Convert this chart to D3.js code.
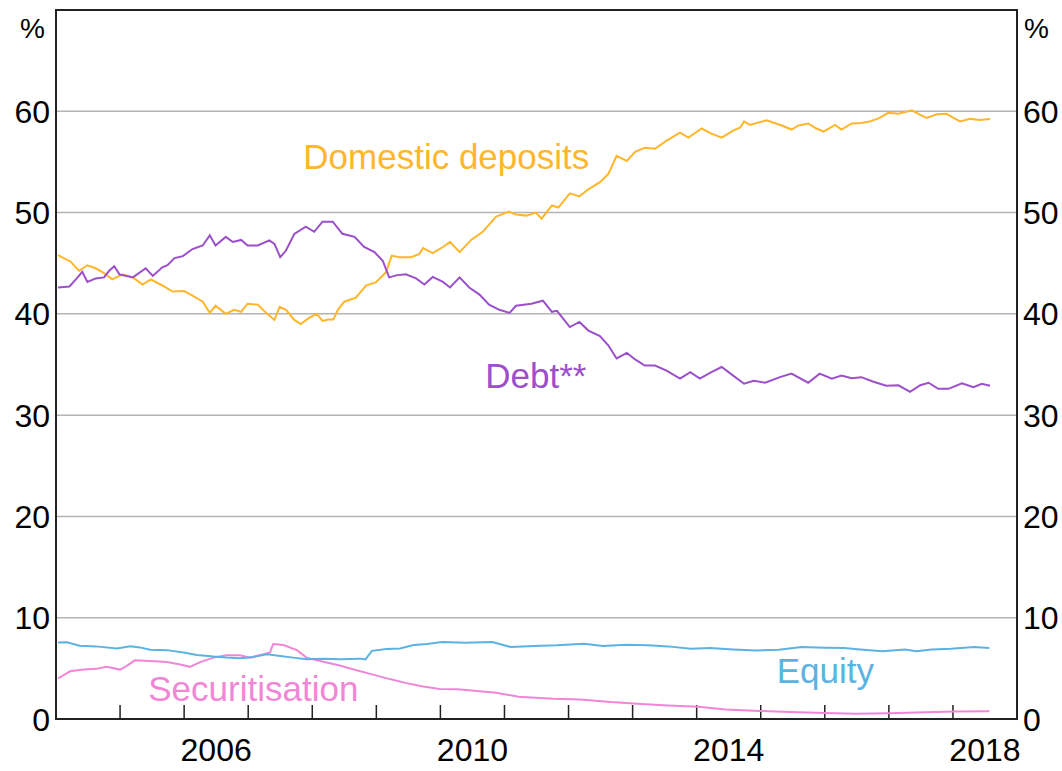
<!DOCTYPE html>
<html>
<head>
<meta charset="utf-8">
<script src="https://cdn.jsdelivr.net/npm/d3@7"></script>
<style>
  body { margin: 0; background: #fff; }
  svg { font-family: Arial, "Liberation Sans", sans-serif; }
</style>
</head>
<body>
<div id="chart"></div>
<script>
// values, [decimal year, per cent]
const deposits = [
  [2004.03,45.8],[2004.23,45.15],[2004.36,44.25],[2004.49,44.8],[2004.62,44.5],[2004.73,44.1],
  [2004.88,43.4],[2005.04,43.9],[2005.20,43.6],[2005.35,42.9],[2005.48,43.4],[2005.66,42.8],
  [2005.82,42.2],[2006.0,42.25],[2006.13,41.8],[2006.29,41.2],[2006.40,40.1],[2006.49,40.8],
  [2006.65,40.0],[2006.78,40.4],[2006.89,40.2],[2006.99,41.0],[2007.15,40.9],[2007.28,40.1],
  [2007.41,39.4],[2007.49,40.7],[2007.59,40.4],[2007.72,39.4],[2007.82,39.0],[2007.95,39.6],
  [2008.07,40.0],[2008.16,39.3],[2008.25,39.45],[2008.33,39.45],[2008.40,40.4],[2008.50,41.2],
  [2008.68,41.6],[2008.84,42.8],[2008.99,43.1],[2009.15,44.1],[2009.24,45.75],[2009.36,45.6],
  [2009.54,45.6],[2009.67,45.9],[2009.73,46.5],[2009.88,46.0],[2010.04,46.6],[2010.15,47.1],
  [2010.30,46.1],[2010.48,47.3],[2010.66,48.1],[2010.87,49.6],[2011.07,50.1],[2011.18,49.8],
  [2011.34,49.7],[2011.49,50.0],[2011.58,49.4],[2011.74,50.7],[2011.84,50.5],[2012.02,51.9],
  [2012.17,51.6],[2012.31,52.3],[2012.49,53.0],[2012.62,53.8],[2012.75,55.6],[2012.91,55.1],
  [2013.04,56.0],[2013.19,56.4],[2013.35,56.3],[2013.53,57.1],[2013.74,57.9],[2013.87,57.4],
  [2014.08,58.3],[2014.23,57.8],[2014.39,57.4],[2014.57,58.1],[2014.68,58.4],[2014.74,59.0],
  [2014.83,58.65],[2015.09,59.1],[2015.33,58.6],[2015.48,58.2],[2015.59,58.6],[2015.74,58.8],
  [2015.87,58.3],[2015.98,58.0],[2016.16,58.65],[2016.26,58.2],[2016.42,58.8],[2016.57,58.85],
  [2016.70,59.0],[2016.84,59.3],[2016.99,59.85],[2017.15,59.75],[2017.36,60.1],[2017.46,59.75],
  [2017.59,59.35],[2017.75,59.7],[2017.90,59.75],[2018.01,59.35],[2018.11,59.0],[2018.27,59.25],
  [2018.42,59.15],[2018.58,59.25]
];
const debt = [
  [2004.03,42.6],[2004.21,42.7],[2004.31,43.4],[2004.41,44.15],[2004.49,43.15],[2004.62,43.5],
  [2004.75,43.6],[2004.83,44.25],[2004.91,44.7],[2004.99,43.9],[2005.20,43.6],[2005.40,44.5],
  [2005.51,43.75],[2005.66,44.6],[2005.74,44.8],[2005.85,45.5],[2005.98,45.7],[2006.13,46.4],
  [2006.29,46.75],[2006.40,47.75],[2006.49,46.75],[2006.65,47.6],[2006.76,47.1],[2006.89,47.3],
  [2006.99,46.75],[2007.15,46.75],[2007.33,47.25],[2007.41,46.9],[2007.50,45.6],[2007.59,46.25],
  [2007.72,47.9],[2007.90,48.6],[2008.03,48.1],[2008.16,49.1],[2008.32,49.1],[2008.47,47.9],
  [2008.66,47.6],[2008.81,46.6],[2008.97,46.1],[2009.10,45.25],[2009.20,43.6],[2009.31,43.8],
  [2009.46,43.9],[2009.62,43.5],[2009.75,42.9],[2009.88,43.65],[2010.04,43.15],[2010.15,42.6],
  [2010.30,43.6],[2010.45,42.6],[2010.61,41.9],[2010.76,40.9],[2010.92,40.4],[2011.08,40.1],
  [2011.18,40.8],[2011.30,40.9],[2011.42,41.0],[2011.60,41.3],[2011.74,40.2],[2011.82,40.3],
  [2012.02,38.7],[2012.17,39.2],[2012.31,38.35],[2012.49,37.8],[2012.62,36.9],[2012.75,35.6],
  [2012.91,36.15],[2013.04,35.5],[2013.19,34.9],[2013.35,34.9],[2013.53,34.4],[2013.74,33.6],
  [2013.90,34.25],[2014.05,33.6],[2014.23,34.25],[2014.39,34.75],[2014.57,33.9],[2014.74,33.1],
  [2014.89,33.4],[2015.07,33.2],[2015.30,33.75],[2015.48,34.1],[2015.74,33.2],[2015.92,34.1],
  [2016.11,33.6],[2016.26,33.9],[2016.42,33.65],[2016.57,33.75],[2016.76,33.3],[2016.96,32.9],
  [2017.15,32.95],[2017.33,32.3],[2017.49,32.95],[2017.62,33.2],[2017.77,32.6],[2017.93,32.6],
  [2018.14,33.15],[2018.32,32.75],[2018.45,33.1],[2018.58,32.9]
];
const equity = [
  [2004.03,7.55],[2004.17,7.58],[2004.37,7.24],[2004.63,7.17],[2004.95,6.97],[2005.16,7.17],
  [2005.31,7.07],[2005.47,6.84],[2005.73,6.8],[2005.99,6.57],[2006.20,6.33],[2006.46,6.16],
  [2006.66,6.06],[2006.87,5.99],[2007.08,6.13],[2007.29,6.4],[2007.50,6.23],[2007.70,6.06],
  [2007.91,5.89],[2008.17,5.96],[2008.43,5.89],[2008.75,5.96],[2008.83,5.89],[2008.93,6.73],
  [2009.16,6.9],[2009.37,6.97],[2009.58,7.3],[2009.79,7.4],[2010.03,7.6],[2010.39,7.53],
  [2010.81,7.6],[2011.10,7.1],[2011.46,7.2],[2011.82,7.27],[2012.24,7.43],[2012.54,7.2],
  [2012.90,7.33],[2013.25,7.27],[2013.55,7.17],[2013.91,6.93],[2014.21,7.0],[2014.57,6.87],
  [2014.93,6.77],[2015.28,6.83],[2015.64,7.1],[2016.0,7.03],[2016.30,7.0],[2016.60,6.83],
  [2016.90,6.7],[2017.25,6.87],[2017.43,6.7],[2017.67,6.87],[2017.97,6.93],[2018.33,7.1],
  [2018.57,7.0]
];
const securitisation = [
  [2004.03,4.0],[2004.22,4.71],[2004.43,4.88],[2004.63,4.95],[2004.79,5.15],[2005.0,4.88],
  [2005.10,5.22],[2005.23,5.79],[2005.47,5.72],[2005.73,5.62],[2005.94,5.39],[2006.09,5.15],
  [2006.25,5.62],[2006.46,6.06],[2006.66,6.3],[2006.87,6.3],[2007.03,6.06],[2007.24,6.4],
  [2007.34,6.57],[2007.39,7.41],[2007.55,7.31],[2007.76,6.8],[2007.91,6.06],[2008.17,5.66],
  [2008.43,5.29],[2008.69,4.81],[2008.95,4.38],[2009.21,3.94],[2009.47,3.54],[2009.73,3.2],
  [2009.99,2.96],[2010.27,2.93],[2010.87,2.6],[2011.22,2.2],[2011.76,2.0],[2012.18,1.93],
  [2012.66,1.67],[2013.01,1.53],[2013.55,1.33],[2014.03,1.2],[2014.45,0.93],[2014.99,0.8],
  [2015.46,0.7],[2016.0,0.6],[2016.48,0.53],[2017.01,0.57],[2017.43,0.63],[2018.03,0.73],
  [2018.57,0.77]
];
const yTicks = [0, 10, 20, 30, 40, 50, 60];
const yearTicks = d3.range(2005, 2019);
const yearLabels = [2006, 2010, 2014, 2018];

const width = 1062, height = 771;
const margin = { top: 10, right: 45, bottom: 52, left: 56 };
const innerW = width - margin.left - margin.right;
const innerH = height - margin.top - margin.bottom;

const x = d3.scaleLinear().domain([2004, 2019]).range([0, innerW]);
const y = d3.scaleLinear().domain([0, 70]).range([innerH, 0]);

const svg = d3.select("#chart").append("svg")
  .attr("width", width)
  .attr("height", height);
const plot = svg.append("g")
  .attr("transform", `translate(${margin.left}, ${margin.top})`);

// gridlines
plot.append("g")
  .selectAll("line")
  .data(yTicks.filter(d => d > 0))
  .enter().append("line")
  .attr("x1", 0).attr("x2", innerW)
  .attr("y1", d => y(d)).attr("y2", d => y(d))
  .attr("stroke", "#b4b4b4")
  .attr("stroke-width", 1.5);

// y labels both sides
const fs = 32;
plot.append("g").selectAll("text")
  .data(yTicks).enter().append("text")
  .attr("x", -6).attr("y", d => y(d))
  .attr("dy", "0.36em")
  .attr("text-anchor", "end")
  .style("font-size", fs + "px")
  .text(d => d);
plot.append("g").selectAll("text")
  .data(yTicks).enter().append("text")
  .attr("x", innerW + 6).attr("y", d => y(d))
  .attr("dy", "0.36em")
  .attr("text-anchor", "start")
  .style("font-size", fs + "px")
  .text(d => d);
plot.append("text").attr("x", -11).attr("y", 28).attr("text-anchor", "end")
  .style("font-size", "28px").text("%");
plot.append("text").attr("x", innerW + 7).attr("y", 28)
  .style("font-size", "28px").text("%");

// x ticks inside, labels mid-year
plot.append("g").selectAll("line")
  .data(yearTicks).enter().append("line")
  .attr("x1", d => x(d)).attr("x2", d => x(d))
  .attr("y1", innerH).attr("y2", innerH - 14)
  .attr("stroke", "#222").attr("stroke-width", 1.5);
plot.append("g").selectAll("text")
  .data(yearLabels).enter().append("text")
  .attr("x", d => x(d + 0.5)).attr("y", innerH + 42)
  .attr("text-anchor", "middle")
  .style("font-size", fs + "px")
  .text(d => d);

// series
const line = d3.line().x(d => x(d[0])).y(d => y(d[1]));
const series = [
  { data: deposits, color: "#FFB62B", label: "Domestic deposits", lx: 2007.86, ly: 54.3 },
  { data: debt, color: "#9B4FCB", label: "Debt**", lx: 2010.7, ly: 32.7 },
  { data: securitisation, color: "#F286D6", label: "Securitisation", lx: 2005.44, ly: 1.8 },
  { data: equity, color: "#5CB3E3", label: "Equity", lx: 2015.25, ly: 3.6 }
];
plot.append("g").selectAll("path")
  .data(series).enter().append("path")
  .attr("d", d => line(d.data))
  .attr("fill", "none")
  .attr("stroke", d => d.color)
  .attr("stroke-width", 2);
plot.append("g").selectAll("text")
  .data(series).enter().append("text")
  .attr("x", d => x(d.lx)).attr("y", d => y(d.ly))
  .attr("fill", d => d.color)
  .style("font-size", "35px")
  .text(d => d.label);

// frame
plot.append("rect")
  .attr("width", innerW).attr("height", innerH)
  .attr("fill", "none")
  .attr("stroke", "#222")
  .attr("stroke-width", 2);
</script>
</body>
</html>
